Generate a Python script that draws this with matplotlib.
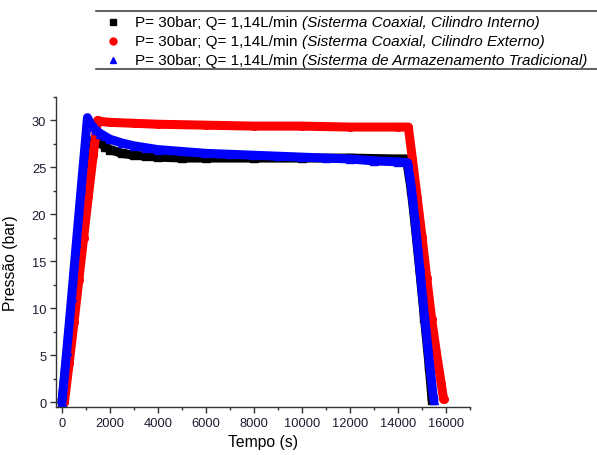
import matplotlib
matplotlib.use("Agg")
import matplotlib.pyplot as plt
from matplotlib.lines import Line2D
from matplotlib.ticker import MultipleLocator

plt.rcParams['font.family'] = ['Liberation Sans', 'DejaVu Sans']

# Sistema Coaxial, Cilindro Interno (black squares)
t_int = [0, 200, 400, 600, 800, 1000, 1200, 1400, 1600, 1800, 2000, 2500, 3000, 3500,
         4000, 5000, 6000, 8000, 10000, 12000, 14000, 14350, 14550, 14700, 14900, 15100,
         15300, 15420]
p_int = [0, 5.0, 10.2, 15.4, 20.4, 25.0, 27.6, 28.2, 27.6, 27.2, 26.9, 26.5, 26.3, 26.2,
         26.1, 26.0, 26.0, 26.0, 26.0, 26.0, 25.9, 25.9, 22.6, 19.2, 14.2, 9.0,
         3.8, 0.2]

# Sistema Coaxial, Cilindro Externo (red circles)
t_ext = [100, 300, 500, 700, 900, 1100, 1300, 1480, 1600, 2000, 3000, 4000, 6000, 8000,
         10000, 12000, 14000, 14430, 14600, 14800, 15000, 15200, 15400, 15600, 15800, 15900]
p_ext = [0, 4.2, 8.5, 13.0, 17.5, 22.0, 26.3, 30.0, 29.9, 29.8, 29.7, 29.6, 29.5, 29.4,
         29.4, 29.3, 29.3, 29.3, 25.9, 21.8, 17.6, 13.2, 8.9, 5.3, 2.0, 0.3]

# Sistema de Armazenamento Tradicional (blue triangles)
t_trad = [0, 200, 400, 600, 800, 1000, 1060, 1200, 1400, 1600, 1800, 2000, 2500, 3000,
          3500, 4000, 5000, 6000, 7000, 8000, 9000, 10000, 11000, 12000, 13000, 14000,
          14400, 14550, 14700, 14900, 15100, 15300, 15450, 15500]
p_trad = [0, 5.5, 11.2, 17.0, 22.8, 28.5, 30.3, 29.6, 29.0, 28.6, 28.3, 28.0, 27.6, 27.3,
          27.1, 26.9, 26.7, 26.5, 26.4, 26.3, 26.2, 26.1, 26.0, 25.9, 25.7, 25.6,
          25.5, 23.0, 19.6, 14.5, 9.3, 4.5, 1.0, 0.2]

label_main = "P= 30bar; Q= 1,14L/min "
label_ital = ["(Sisterma Coaxial, Cilindro Interno)",
              "(Sisterma Coaxial, Cilindro Externo)",
              "(Sisterma de Armazenamento Tradicional)"]

colors = ['#000000', '#ff0000', '#0000ff']
markers = ['s', 'o', '^']

W, H = 597, 456
fig = plt.figure(figsize=(W / 100, H / 100), dpi=100)
ax = fig.add_axes([56 / W, 48 / H, 414 / W, 310 / H])

series = [(t_int, p_int), (t_ext, p_ext), (t_trad, p_trad)]
for (t, p), c, m in zip(series, colors, markers):
    ax.plot(t, p, '-', color=c, lw=6.5, solid_capstyle='round', solid_joinstyle='round',
            marker=m, ms=5.5, mec=c, mfc=c)

ax.set_xlim(-250, 17000)
ax.set_ylim(-0.5, 32.5)
ax.xaxis.set_major_locator(MultipleLocator(2000))
ax.xaxis.set_minor_locator(MultipleLocator(1000))
ax.yaxis.set_major_locator(MultipleLocator(5))
ax.yaxis.set_minor_locator(MultipleLocator(2.5))
for s in ['top', 'right']:
    ax.spines[s].set_visible(False)
for s in ['left', 'bottom']:
    ax.spines[s].set_color('#333333')
    ax.spines[s].set_linewidth(1.0)
ax.tick_params(which='major', direction='out', length=4, width=1, color='#333333',
               labelsize=9.3, labelcolor='#1c1c30', pad=3)
ax.tick_params(which='minor', direction='out', length=2.5, width=1, color='#333333')

ax.set_xlabel("Tempo (s)", fontsize=11.3)
ax.set_ylabel("Pressão (bar)", fontsize=11.3)
ax.yaxis.set_label_coords(-0.092, 0.468)

# legend block at the top
fig.add_artist(Line2D([96 / W, 1.0], [1 - 12 / H, 1 - 12 / H], color='#444444', lw=1.2))
fig.add_artist(Line2D([96 / W, 1.0], [1 - 70 / H, 1 - 70 / H], color='#444444', lw=1.2))
rows_y = [23, 41.7, 60.7]
fig.canvas.draw()
renderer = fig.canvas.get_renderer()
for y, c, m, it in zip(rows_y, colors, markers, label_ital):
    yf = 1 - y / H
    fig.add_artist(Line2D([113 / W], [yf], marker=m, color=c, ms=5, ls='none'))
    t1 = fig.text(135 / W, yf, label_main, fontsize=11, va='center', ha='left')
    bb = t1.get_window_extent(renderer=renderer)
    fig.text(bb.x1 / W, yf, it, fontsize=11, va='center', ha='left', style='italic')

fig.savefig("out.png", dpi=100)
